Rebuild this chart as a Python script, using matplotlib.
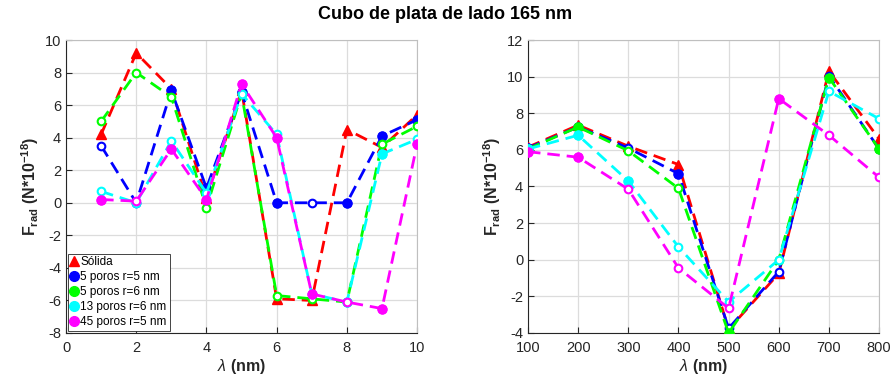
import matplotlib
matplotlib.use("Agg")
import matplotlib.pyplot as plt
from matplotlib.lines import Line2D

plt.rcParams['font.family'] = ['Liberation Sans', 'DejaVu Sans']
plt.rcParams['axes.unicode_minus'] = False
plt.rcParams['mathtext.fontset'] = 'custom'
plt.rcParams['mathtext.rm'] = 'Liberation Sans'
plt.rcParams['mathtext.it'] = 'Liberation Sans:italic'
plt.rcParams['mathtext.bf'] = 'Liberation Sans:bold'

# ---- Data: left panel (lambda in nm, 1..10) ----
x_left = [1, 2, 3, 4, 5, 6, 7, 8, 9, 10]
solida_left = [4.2, 9.2, 7.0, 0.3, 6.9, -5.9, -6.0, 4.5, 3.4, 5.4]
p5r5_left = [3.5, 0.0, 6.9, 0.9, 6.8, 0.0, 0.0, 0.0, 4.1, 5.1]
p5r6_left = [5.0, 8.0, 6.5, -0.3, 6.7, -5.7, -5.9, -6.1, 3.6, 4.7]
p13r6_left = [0.7, 0.0, 3.8, 0.6, 6.7, 4.2, -5.6, -6.1, 3.0, 3.9]
p45r5_left = [0.2, 0.1, 3.3, 0.2, 7.3, 4.0, -5.6, -6.1, -6.5, 3.6]

# filled-marker flags per point
p5r5_left_f = [0, 0, 1, 1, 1, 1, 0, 1, 1, 1]
p5r6_left_f = [0, 0, 0, 0, 0, 0, 0, 0, 0, 0]
p13r6_left_f = [0, 0, 0, 0, 0, 0, 0, 1, 1, 0]
p45r5_left_f = [1, 0, 1, 1, 1, 1, 1, 0, 1, 1]

# ---- Data: right panel (lambda in nm, 100..800) ----
x_right = [100, 200, 300, 400, 500, 600, 700, 800]
solida_right = [6.15, 7.35, 6.2, 5.2, -3.8, -0.75, 10.3, 6.6]
p5r5_right = [6.1, 7.25, 6.1, 4.7, -3.75, -0.65, 10.05, 6.05]
p5r6_right = [6.05, 7.25, 5.95, 3.9, -4.0, 0.0, 9.95, 6.05]
p13r6_right = [6.05, 6.8, 4.3, 0.7, -2.3, 0.0, 9.2, 7.7]
p45r5_right = [5.9, 5.6, 3.85, -0.45, -2.65, 8.8, 6.8, 4.5]

p5r5_right_f = [1, 1, 0, 1, 0, 0, 0, 0]
p5r6_right_f = [1, 1, 0, 0, 1, 0, 1, 1]
p13r6_right_f = [1, 1, 1, 0, 0, 0, 0, 0]
p45r5_right_f = [1, 1, 0, 0, 0, 1, 0, 0]

labels = ['Sólida', '5 poros r=5 nm', '5 poros r=6 nm', '13 poros r=6 nm', '45 poros r=5 nm']
colors = ['#ff0000', '#0000ff', '#00ff00', '#00ffff', '#ff00ff']
dash = (0, (4.5, 2.5))

fig = plt.figure(figsize=(8.91, 3.81), dpi=100)
ax1 = fig.add_axes([0.0741, 0.126, 0.394, 0.769])
ax2 = fig.add_axes([0.5926, 0.126, 0.394, 0.769])


def draw(ax, x, series, flags):
    # solid reference: red triangles on a dashed line
    ax.plot(x, series[0], color=colors[0], ls=dash, lw=2.0,
            marker='^', ms=6.5, mfc=colors[0], mec=colors[0], zorder=3)
    for k in range(1, 5):
        ys = series[k]
        ax.plot(x, ys, color=colors[k], ls=dash, lw=2.0,
                marker='o', ms=5.5, mfc='white', mec=colors[k], mew=1.5,
                zorder=3 + k)
        fx = [xi for xi, f in zip(x, flags[k - 1]) if f]
        fy = [yi for yi, f in zip(ys, flags[k - 1]) if f]
        ax.plot(fx, fy, ls='none', marker='o', ms=6.5, mfc=colors[k],
                mec=colors[k], zorder=3 + k)


def style(ax):
    ax.grid(True, color='#dcdcdc', lw=0.9)
    ax.set_axisbelow(True)
    ax.tick_params(direction='in', length=4, labelsize=10.5, colors='#262626',
                   top=False, right=False)
    ax.tick_params(axis='x', pad=6)
    for s in ax.spines.values():
        s.set_color('#bfbfbf')
        s.set_linewidth(0.8)
    ax.spines['left'].set_color('#262626')
    ax.spines['bottom'].set_color('#262626')
    ax.set_xlabel(r'$\mathit{\lambda}$ (nm)', fontsize=11.5, fontweight='bold',
                  color='#262626', labelpad=1)
    ax.set_ylabel(r'F$_{\mathbf{rad}}$ (N*10$^{\mathbf{-18}}$)', fontsize=11.5,
                  fontweight='bold', color='#262626', labelpad=3)


draw(ax1, x_left, [solida_left, p5r5_left, p5r6_left, p13r6_left, p45r5_left],
     [p5r5_left_f, p5r6_left_f, p13r6_left_f, p45r5_left_f])
ax1.set_xlim(0, 10)
ax1.set_ylim(-8, 10)
ax1.set_xticks(range(0, 11, 2))
ax1.set_yticks(range(-8, 11, 2))
style(ax1)

draw(ax2, x_right, [solida_right, p5r5_right, p5r6_right, p13r6_right, p45r5_right],
     [p5r5_right_f, p5r6_right_f, p13r6_right_f, p45r5_right_f])
ax2.set_xlim(100, 800)
ax2.set_ylim(-4, 12)
ax2.set_xticks(range(100, 801, 100))
ax2.set_yticks(range(-4, 13, 2))
style(ax2)

handles = [Line2D([], [], ls='none', marker='^', ms=7, color=colors[0])]
handles += [Line2D([], [], ls='none', marker='o', ms=7, color=c) for c in colors[1:]]
leg = ax1.legend(handles, labels, loc='lower left', fontsize=8.5,
                 handlelength=0.6, handletextpad=0.2, borderpad=0.25,
                 labelspacing=0.25, borderaxespad=0.15, fancybox=False,
                 framealpha=1)
leg.get_frame().set_edgecolor('#262626')
leg.get_frame().set_linewidth(0.6)

fig.suptitle('Cubo de plata de lado 165 nm', fontsize=13, fontweight='bold',
             y=0.985, x=0.5)

fig.savefig('out.png', dpi=100)
